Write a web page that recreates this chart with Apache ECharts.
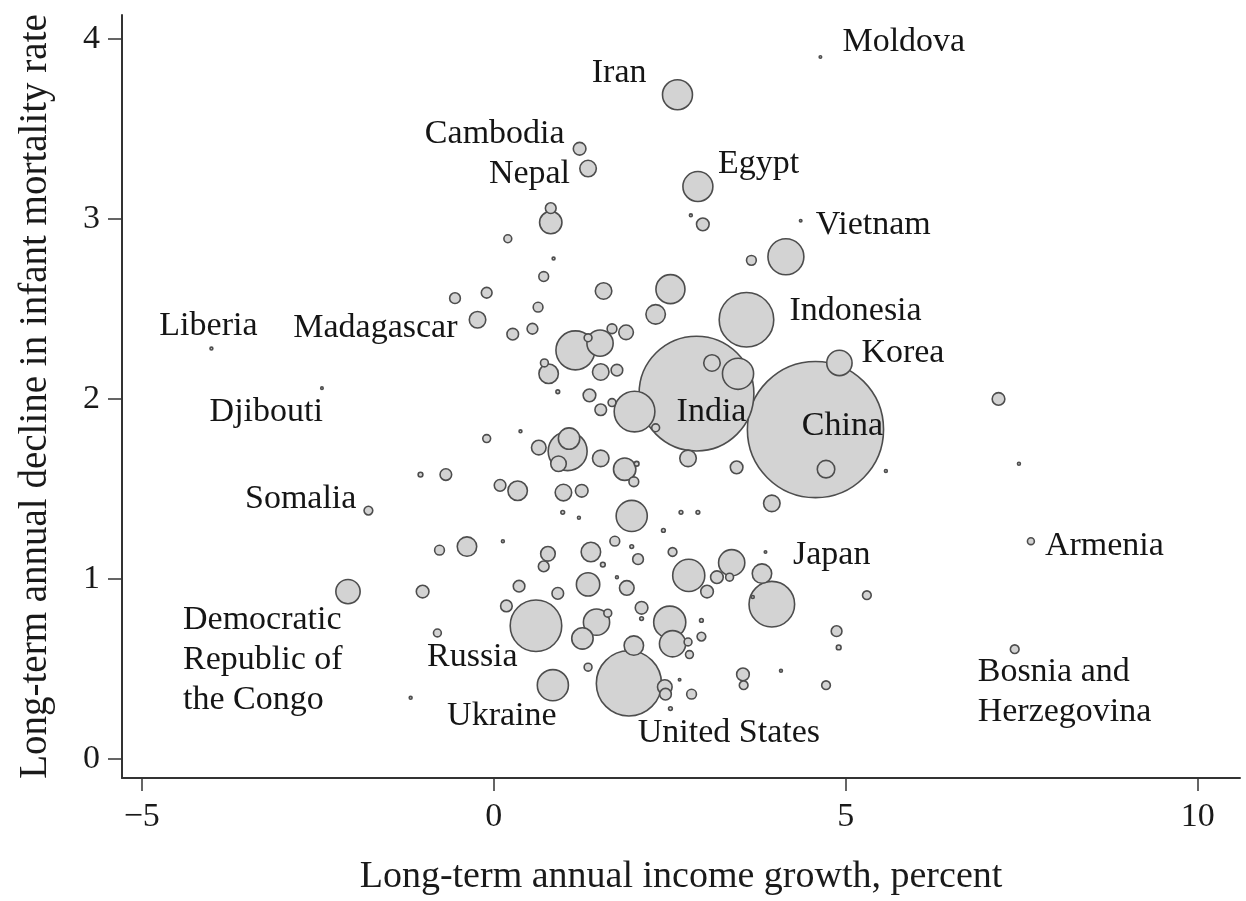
<!DOCTYPE html>
<html><head><meta charset="utf-8">
<script src="https://cdn.jsdelivr.net/npm/echarts@6/dist/echarts.min.js"></script>
<style>html,body{margin:0;padding:0;background:#fff}#c{width:1246px;height:901px}</style>
</head><body><div id="c"></div>
<script>
// Country labels ('' = unlabelled country)
const countries = [
'Moldova','Iran','Cambodia','Nepal','Egypt','','','Vietnam','','',
'','','','','','','','','','Madagascar',
'','','','','','','','','','',
'','','','','','','','','','India',
'','','Indonesia','Korea','China','','','','','',
'','','','','','','','','','',
'','','','','','','','','','',
'','','','','','','','','','',
'','','','','','','','','Japan','',
'','','','','','','','','','',
'','','Russia','','','','','','','',
'','','','','','Ukraine','','United States','','',
'','','','','','','','','','Liberia',
'Djibouti','Somalia','Democratic\nRepublic of\nthe Congo','','','Armenia','Bosnia and\nHerzegovina'
];
// Long-term annual income growth, percent
const growth = [
4.64,2.61,1.22,1.34,2.90,2.80,2.97,4.36,0.81,0.81,
0.20,0.85,0.71,-0.10,-0.55,1.56,2.51,3.66,4.15,-0.23,
0.63,0.55,0.27,2.30,1.16,1.51,1.68,1.88,1.34,0.72,
0.78,1.52,1.75,0.91,1.36,1.52,1.68,2.00,2.30,2.88,
3.10,3.47,3.59,4.91,4.57,2.76,3.45,4.72,5.57,-0.10,
0.38,0.64,1.05,1.07,0.92,1.52,1.86,2.03,1.99,-1.04,
-0.68,0.09,0.34,0.99,1.25,0.98,1.21,1.96,2.41,2.66,
2.90,3.95,-0.77,-0.38,0.13,0.77,0.71,1.38,1.72,1.96,
2.05,1.55,2.54,2.77,3.38,3.17,3.03,3.35,3.81,3.95,
3.86,3.68,5.30,4.87,4.90,1.34,1.75,1.89,-1.01,0.36,
0.91,0.18,0.60,1.46,1.26,1.62,2.10,2.10,2.50,2.54,
2.76,2.78,2.95,2.95,-0.80,0.84,1.34,1.92,1.99,2.43,
2.44,2.81,2.51,2.64,-1.18,3.54,3.55,4.08,4.72,-4.01,
-2.44,-1.78,-2.07,7.17,7.46,7.63,7.40
];
// Long-term annual decline in infant mortality rate
const decline = [
3.90,3.69,3.39,3.28,3.18,3.02,2.97,2.99,3.06,2.98,
2.89,2.78,2.68,2.59,2.56,2.60,2.61,2.77,2.79,2.44,
2.51,2.39,2.36,2.47,2.27,2.31,2.39,2.37,2.34,2.20,
2.14,2.15,2.16,2.04,2.02,1.94,1.98,1.93,1.84,2.03,
2.20,2.14,2.44,2.20,1.83,1.67,1.62,1.61,1.60,1.78,
1.82,1.73,1.71,1.78,1.64,1.67,1.61,1.64,1.54,1.58,
1.58,1.52,1.49,1.48,1.49,1.37,1.34,1.35,1.27,1.37,
1.37,1.42,1.16,1.18,1.21,1.14,1.07,1.15,1.21,1.18,
1.11,1.08,1.15,1.02,1.09,1.01,0.93,1.01,1.03,0.86,
1.15,0.90,0.91,0.71,0.62,0.97,1.01,0.95,0.93,0.96,
0.92,0.85,0.74,0.76,0.67,0.81,0.84,0.78,0.76,0.64,
0.65,0.58,0.68,0.77,0.70,0.41,0.51,0.42,0.63,0.40,
0.36,0.36,0.28,0.44,0.34,0.47,0.41,0.49,0.41,2.28,
2.06,1.38,0.93,2.00,1.64,1.21,0.61
];
// Population (millions, bubble area)
const population = [
0.1,32,5.7,9.7,32,0.3,5.7,0.1,4.1,17.8,
2.2,0.3,3.4,4.1,4.1,9.7,30,3.4,46,9.7,
3.4,4.1,4.8,13.5,54,24.5,3.4,7.6,2.2,2.2,
13.5,9.7,4.8,0.5,5.7,4.8,2.2,59,2.2,469,
9.7,34.5,106,22.8,660,9.7,5.7,10.9,0.3,2.2,
0.3,7.6,54,16.3,8.6,9.7,17.8,0.8,3.4,0.8,
4.8,4.8,13.5,9.7,5.7,0.5,0.3,34.5,0.5,0.5,
0.5,9.7,3.4,13.5,0.3,7.6,4.1,13.5,3.4,0.5,
4.1,0.8,2.7,36.7,24.5,5.7,5.7,2.2,13.5,74,
0.1,0.3,2.7,4.1,0.8,19.4,0.3,7.6,5.7,4.8,
4.8,4.8,94.6,24.5,16.3,2.2,5.7,0.5,36.7,24.5,
2.2,2.2,2.7,0.5,2.2,34.5,2.2,151,13.5,7.6,
4.8,3.4,0.5,0.1,0.3,5.7,2.7,0.3,2.7,0.3,
0.1,2.7,21,5.7,0.3,1.7,2.7
];
const xTicks = [-5, 0, 5, 10];
const yTicks = [0, 1, 2, 3, 4];

// label placement (style only): [align, dx, dy]
const labelPlacement = {
  'Moldova':['left',22,-15], 'Iran':['right',-31,-22], 'Cambodia':['right',-15,-15],
  'Nepal':['right',-18,6], 'Egypt':['left',20,-22], 'Vietnam':['left',15,4],
  'Madagascar':['right',-20,8], 'India':['center',15,19], 'Indonesia':['left',43,-9],
  'Korea':['left',22,-10], 'China':['center',27,-3], 'Japan':['left',31,-18],
  'Russia':['left',-109,31], 'Ukraine':['center',-51,31], 'United States':['center',100,50],
  'Liberia':['center',-3,-22], 'Djibouti':['right',1,24], 'Somalia':['right',-12,-11],
  'Democratic\nRepublic of\nthe Congo':['left',-165,68], 'Armenia':['left',14,5],
  'Bosnia and\nHerzegovina':['left',-37,43]
};

const FONT = 'Liberation Serif';
const bubbles = growth.map((x, i) => ({ value: [x, decline[i], population[i]], name: countries[i] || '' }))
  .sort((a, b) => b.value[2] - a.value[2]);
const labelPoints = growth.map((x, i) => ({ value: [x, decline[i]], name: countries[i] || '' }))
  .filter(d => d.name !== '' && labelPlacement[d.name])
  .map(d => {
    const p = labelPlacement[d.name];
    return Object.assign(d, { label: { show: true, align: p[0], offset: [p[1], p[2]] } });
  });

const chart = echarts.init(document.getElementById('c'), null, { renderer: 'canvas' });
chart.setOption({
  animation: false,
  backgroundColor: '#fff',
  grid: { left: 122, right: 6, top: 15, bottom: 123 },
  xAxis: {
    type: 'value', min: -5.28, max: 10.6,
    name: 'Long-term annual income growth, percent',
    nameLocation: 'middle', nameGap: 80,
    nameTextStyle: { fontFamily: FONT, fontSize: 38, color: '#1a1a1a' },
    axisLine: { show: true, onZero: false, lineStyle: { color: '#333', width: 2 } },
    axisTick: { show: true, customValues: xTicks, length: 13, lineStyle: { color: '#333', width: 1.5 } },
    axisLabel: { customValues: xTicks, margin: 22, fontFamily: FONT, fontSize: 34, color: '#1a1a1a',
      formatter: v => v < 0 ? '\u2212' + Math.abs(v) : String(v) },
    splitLine: { show: false }
  },
  yAxis: {
    type: 'value', min: -0.1056, max: 4.133,
    name: 'Long-term annual decline in infant mortality rate',
    nameLocation: 'middle', nameGap: 67, nameRotate: 90,
    nameTextStyle: { fontFamily: FONT, fontSize: 39, color: '#1a1a1a' },
    axisLine: { show: true, onZero: false, lineStyle: { color: '#333', width: 2 } },
    axisTick: { show: true, customValues: yTicks, length: 14, lineStyle: { color: '#333', width: 1.5 } },
    axisLabel: { customValues: yTicks, margin: 22, fontFamily: FONT, fontSize: 34, color: '#1a1a1a' },
    splitLine: { show: false }
  },
  series: [
    {
      type: 'scatter', name: 'countries', data: bubbles,
      symbolSize: v => Math.max(2.5, 5.3 * Math.sqrt(v[2])),
      itemStyle: { color: '#d3d3d3', borderColor: '#4d4d4d', borderWidth: 1.6, opacity: 1 },
      emphasis: { disabled: true }, silent: true
    },
    {
      type: 'scatter', name: 'labels', data: labelPoints, symbolSize: 0, z: 5,
      itemStyle: { color: 'transparent', opacity: 1 },
      label: { show: true, position: 'inside', verticalAlign: 'middle', fontFamily: FONT, fontSize: 34,
        color: '#151515', lineHeight: 40, formatter: p => p.name },
      emphasis: { disabled: true }, silent: true
    }
  ]
});
</script></body></html>
